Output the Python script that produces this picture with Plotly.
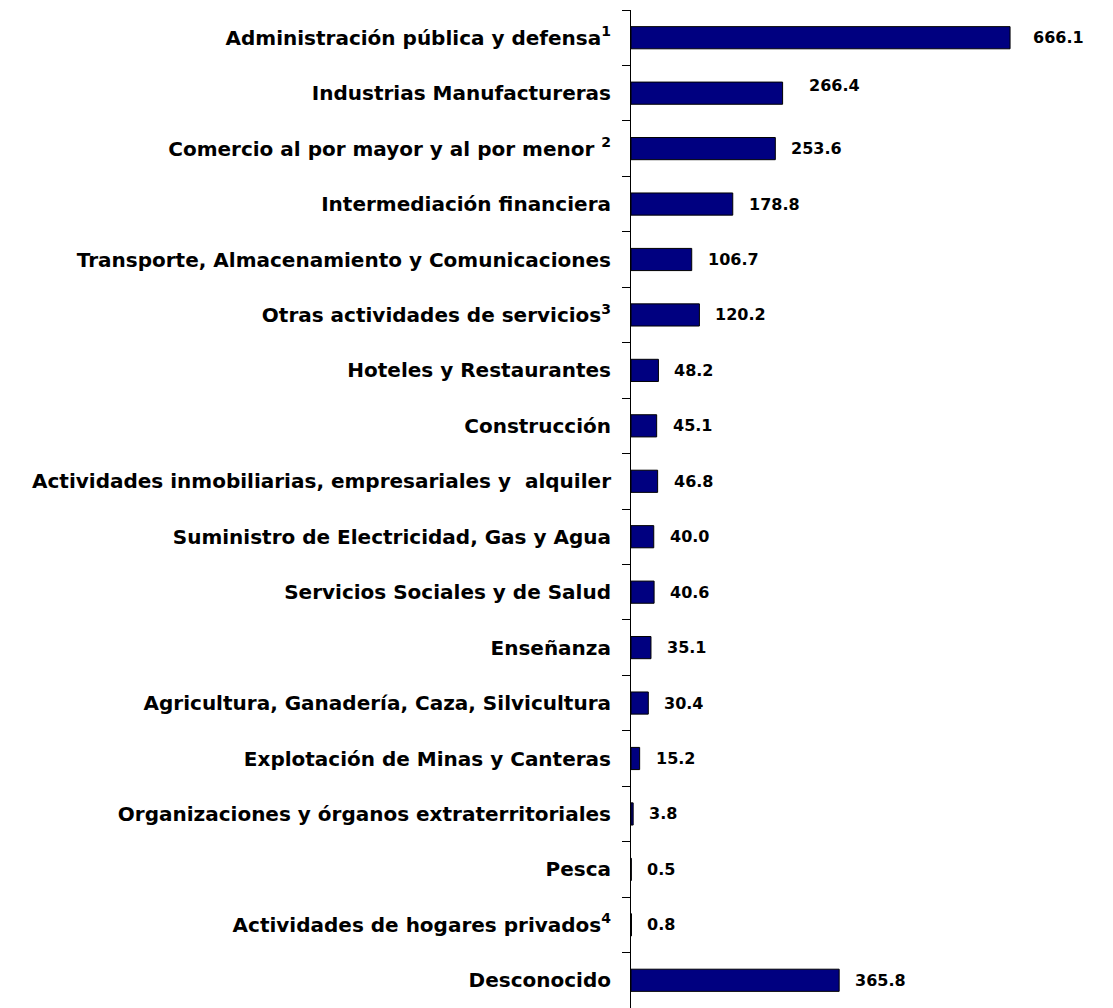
import plotly.graph_objects as go

categories = [
    "Administración pública y defensa<sup>1</sup>",
    "Industrias Manufactureras",
    "Comercio al por mayor y al por menor <sup>2</sup>",
    "Intermediación financiera",
    "Transporte, Almacenamiento y Comunicaciones",
    "Otras actividades de servicios<sup>3</sup>",
    "Hoteles y Restaurantes",
    "Construcción",
    "Actividades inmobiliarias, empresariales y  alquiler",
    "Suministro de Electricidad, Gas y Agua",
    "Servicios Sociales y de Salud",
    "Enseñanza",
    "Agricultura, Ganadería, Caza, Silvicultura",
    "Explotación de Minas y Canteras",
    "Organizaciones y órganos extraterritoriales",
    "Pesca",
    "Actividades de hogares privados<sup>4</sup>",
    "Desconocido",
]
values = [666.1, 266.4, 253.6, 178.8, 106.7, 120.2, 48.2, 45.1, 46.8,
          40.0, 40.6, 35.1, 30.4, 15.2, 3.8, 0.5, 0.8, 365.8]
value_labels = [f"{v:.1f}" for v in values]

FONT = "DejaVu Sans"

# a couple of value labels were nudged by hand in the original chart
label_nudge = {0: (21, 0), 1: (24, 8)}

fig = go.Figure()
fig.add_trace(go.Bar(
    x=values, y=categories, orientation="h",
    marker=dict(color="#000080", line=dict(color="black", width=1)),
    hoverinfo="skip",
))

for i, (v, c, t) in enumerate(zip(values, categories, value_labels)):
    dx, dy = label_nudge.get(i, (14, 0))
    fig.add_annotation(x=v, y=c, text=t, showarrow=False, xanchor="left",
                       xshift=dx, yshift=dy,
                       font=dict(family=FONT, size=16, color="black", weight="bold"))

fig.update_layout(
    width=1105, height=1000,
    margin=dict(l=623, r=0, t=2, b=0),
    plot_bgcolor="white", paper_bgcolor="white",
    bargap=0.6, showlegend=False,
    xaxis=dict(range=[0, 847], visible=False, fixedrange=True),
    yaxis=dict(
        autorange="reversed", showline=True, linecolor="black", linewidth=1,
        ticks="outside", tickson="boundaries", ticklen=8, tickcolor="black",
        tickfont=dict(family=FONT, size=20, color="black", weight="bold"),
        ticklabelstandoff=15, automargin=False, showgrid=False,
    ),
)

fig.write_html("out.html")
